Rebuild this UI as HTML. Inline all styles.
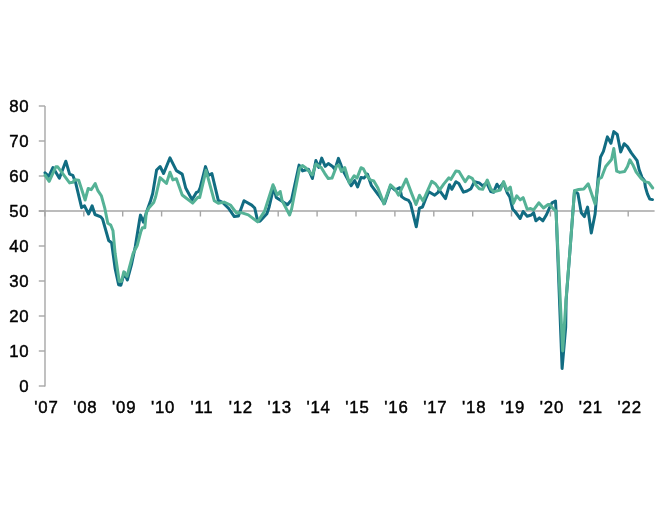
<!DOCTYPE html>
<html><head><meta charset="utf-8"><style>
html,body{margin:0;padding:0;background:#fff;}
body{width:671px;height:516px;overflow:hidden;}
svg{display:block;will-change:transform;}
text{font-family:"Liberation Sans",sans-serif;font-size:16.8px;letter-spacing:0.6px;fill:#000;stroke:#000;stroke-width:0.45px;}
</style></head><body>
<svg width="671" height="516" viewBox="0 0 671 516">
<line x1="45" y1="106" x2="45" y2="386.5" stroke="#a6a6a6" stroke-width="1.4"/>
<line x1="38.8" y1="106" x2="45" y2="106" stroke="#a6a6a6" stroke-width="1.4"/>
<line x1="38.8" y1="141" x2="45" y2="141" stroke="#a6a6a6" stroke-width="1.4"/>
<line x1="38.8" y1="176" x2="45" y2="176" stroke="#a6a6a6" stroke-width="1.4"/>
<line x1="38.8" y1="211" x2="45" y2="211" stroke="#a6a6a6" stroke-width="1.4"/>
<line x1="38.8" y1="246" x2="45" y2="246" stroke="#a6a6a6" stroke-width="1.4"/>
<line x1="38.8" y1="281" x2="45" y2="281" stroke="#a6a6a6" stroke-width="1.4"/>
<line x1="38.8" y1="316" x2="45" y2="316" stroke="#a6a6a6" stroke-width="1.4"/>
<line x1="38.8" y1="351" x2="45" y2="351" stroke="#a6a6a6" stroke-width="1.4"/>
<line x1="38.8" y1="386" x2="45" y2="386" stroke="#a6a6a6" stroke-width="1.4"/>
<line x1="38.8" y1="211" x2="654.6" y2="211" stroke="#a6a6a6" stroke-width="1.4"/>
<line x1="44.9" y1="211" x2="44.9" y2="216.5" stroke="#a6a6a6" stroke-width="1.4"/>
<line x1="83.8" y1="211" x2="83.8" y2="216.5" stroke="#a6a6a6" stroke-width="1.4"/>
<line x1="122.7" y1="211" x2="122.7" y2="216.5" stroke="#a6a6a6" stroke-width="1.4"/>
<line x1="161.6" y1="211" x2="161.6" y2="216.5" stroke="#a6a6a6" stroke-width="1.4"/>
<line x1="200.4" y1="211" x2="200.4" y2="216.5" stroke="#a6a6a6" stroke-width="1.4"/>
<line x1="239.3" y1="211" x2="239.3" y2="216.5" stroke="#a6a6a6" stroke-width="1.4"/>
<line x1="278.2" y1="211" x2="278.2" y2="216.5" stroke="#a6a6a6" stroke-width="1.4"/>
<line x1="317.1" y1="211" x2="317.1" y2="216.5" stroke="#a6a6a6" stroke-width="1.4"/>
<line x1="356.0" y1="211" x2="356.0" y2="216.5" stroke="#a6a6a6" stroke-width="1.4"/>
<line x1="394.9" y1="211" x2="394.9" y2="216.5" stroke="#a6a6a6" stroke-width="1.4"/>
<line x1="433.8" y1="211" x2="433.8" y2="216.5" stroke="#a6a6a6" stroke-width="1.4"/>
<line x1="472.7" y1="211" x2="472.7" y2="216.5" stroke="#a6a6a6" stroke-width="1.4"/>
<line x1="511.5" y1="211" x2="511.5" y2="216.5" stroke="#a6a6a6" stroke-width="1.4"/>
<line x1="550.4" y1="211" x2="550.4" y2="216.5" stroke="#a6a6a6" stroke-width="1.4"/>
<line x1="589.3" y1="211" x2="589.3" y2="216.5" stroke="#a6a6a6" stroke-width="1.4"/>
<line x1="628.2" y1="211" x2="628.2" y2="216.5" stroke="#a6a6a6" stroke-width="1.4"/>
<polyline points="45.0,172.8 48.8,176.3 53.0,167.5 59.4,178.3 65.8,161.2 69.6,174.2 72.8,175.3 75.7,182.9 81.6,207.6 84.5,205.8 88.6,214.0 92.1,205.8 95.0,214.5 100.8,216.9 102.6,219.2 108.7,240.5 111.6,242.8 115.1,268.4 118.6,284.7 120.9,285.2 124.4,272.4 127.3,280.0 131.4,264.9 135.3,246.5 139.4,220.9 140.5,215.1 143.4,222.1 147.5,209.3 150.3,201.6 152.7,193.5 156.6,170.0 160.1,166.5 163.6,173.5 170.0,157.8 176.4,170.6 182.2,174.1 185.7,188.0 192.1,199.7 196.2,192.7 198.5,191.5 200.2,187.6 205.5,166.6 208.4,175.3 211.9,173.6 218.3,200.3 222.9,202.7 228.7,208.5 234.3,216.6 238.4,216.0 244.0,200.7 251.7,205.1 254.7,208.0 257.6,220.7 259.9,221.3 266.9,213.7 269.2,206.7 273.8,187.0 276.2,197.4 279.7,199.8 287.4,204.7 291.5,200.0 299.1,165.1 302.6,170.9 308.4,169.2 312.4,178.5 315.9,160.5 318.8,167.4 321.7,158.1 325.2,166.3 328.3,163.5 332.6,166.5 334.9,169.4 338.4,158.4 341.3,165.9 344.2,172.9 351.2,185.7 354.7,180.5 357.6,186.9 361.0,177.6 364.0,178.1 367.4,174.1 371.5,185.7 375.0,190.3 378.5,195.0 382.6,200.8 384.5,203.5 390.5,186.0 395.1,190.0 399.8,187.7 401.6,196.6 404.7,198.9 408.5,200.4 410.5,203.5 416.3,226.8 419.4,208.2 422.5,207.0 425.6,198.9 428.8,191.7 434.7,195.2 438.1,192.3 439.1,189.9 445.5,198.6 449.5,184.7 451.9,189.3 455.9,181.7 458.8,183.5 463.5,192.2 467.0,191.0 471.0,188.7 474.5,181.7 479.2,182.9 482.7,185.8 486.7,182.9 490.8,191.6 493.5,192.3 497.0,184.2 499.3,188.0 503.5,182.8 507.3,193.0 509.8,197.0 512.7,209.2 515.0,211.5 520.2,218.5 523.1,211.5 527.2,216.2 531.3,215.0 533.6,212.7 535.9,220.8 539.4,217.9 542.9,220.8 546.6,214.5 549.7,207.4 552.0,202.8 555.5,201.0 556.1,211.5 562.1,368.5 565.7,327.0 566.1,300.5 570.0,250.0 574.5,191.0 577.9,193.7 581.3,212.8 584.4,216.6 587.6,207.1 591.3,233.0 595.1,214.0 598.1,178.1 600.5,157.2 603.4,151.4 607.4,136.9 610.9,143.3 613.8,131.6 617.3,134.5 620.7,152.0 624.1,143.7 627.4,146.6 631.3,152.9 637.1,160.7 639.1,169.5 642.0,177.3 644.5,180.7 645.4,187.0 647.4,193.8 649.8,199.1 652.5,199.6" fill="none" stroke="#116c82" stroke-width="3" stroke-linejoin="round" stroke-linecap="round"/>
<polyline points="45.0,175.2 49.2,181.3 55.8,166.8 57.7,166.8 69.6,182.9 72.8,182.3 74.7,179.7 78.7,180.2 85.1,200.0 88.2,188.5 91.2,189.7 95.2,183.6 97.9,190.7 101.4,195.9 104.9,208.7 107.8,223.3 110.7,225.0 113.0,230.8 115.1,253.3 119.2,281.2 121.5,281.5 123.8,271.9 127.0,276.3 133.1,253.5 137.2,245.5 140.7,232.0 142.4,227.8 144.8,227.8 146.3,212.5 149.0,207.8 153.7,202.4 155.6,197.0 160.1,177.6 166.5,183.4 170.0,172.3 172.9,179.9 176.4,178.7 182.2,195.0 185.1,197.3 192.7,203.1 197.9,197.3 199.7,197.5 206.0,170.3 214.3,200.8 218.3,203.3 224.1,202.1 230.4,205.0 236.6,213.1 241.3,212.6 248.3,214.9 257.6,221.9 264.5,211.4 273.0,184.8 277.2,195.0 280.2,191.5 282.1,200.6 289.6,215.0 291.6,209.0 299.5,168.5 302.4,165.5 306.2,168.3 312.3,175.0 315.9,164.0 321.2,167.4 324.7,173.3 328.3,178.6 332.0,178.1 336.6,166.0 338.8,165.0 341.4,171.5 344.8,167.6 349.3,183.0 354.1,175.8 357.0,178.1 361.0,167.7 363.4,168.8 366.9,175.8 370.3,179.9 373.8,181.0 377.9,188.0 382.0,198.5 383.8,204.0 390.5,184.8 395.0,189.0 398.6,195.2 406.2,179.0 411.4,192.9 416.0,204.5 419.5,195.2 423.0,201.0 431.7,181.3 435.6,184.0 439.7,189.9 443.7,184.1 448.9,177.8 450.8,179.5 455.9,170.9 459.0,171.5 465.2,181.7 468.7,176.5 472.2,178.3 475.7,184.7 479.2,188.7 482.7,189.3 487.3,180.0 490.8,188.7 493.5,191.7 497.5,190.8 500.3,190.0 503.6,181.6 507.1,190.5 510.3,187.1 513.3,203.4 516.7,195.8 520.2,199.9 523.1,197.6 527.2,209.2 530.7,208.6 533.6,209.8 538.8,202.8 543.5,208.0 548.1,204.5 549.7,204.5 553.1,208.6 556.0,211.0 562.7,351.0 566.0,300.0 570.0,250.0 574.5,190.7 578.6,189.5 583.8,188.9 588.2,183.8 595.1,204.0 598.9,178.8 601.5,177.5 605.7,166.5 611.5,159.5 613.8,148.5 616.7,171.2 619.8,172.4 624.6,171.5 627.5,166.6 629.9,159.8 632.8,164.7 636.2,172.0 641.1,178.3 644.9,181.6 648.8,182.6 652.7,188.0" fill="none" stroke="#55b296" stroke-width="3" stroke-linejoin="round" stroke-linecap="round"/>
<text x="29.2" y="111.5" text-anchor="end">80</text>
<text x="29.2" y="146.5" text-anchor="end">70</text>
<text x="29.2" y="181.5" text-anchor="end">60</text>
<text x="29.2" y="216.5" text-anchor="end">50</text>
<text x="29.2" y="251.5" text-anchor="end">40</text>
<text x="29.2" y="286.5" text-anchor="end">30</text>
<text x="29.2" y="321.5" text-anchor="end">20</text>
<text x="29.2" y="356.5" text-anchor="end">10</text>
<text x="29.2" y="391.5" text-anchor="end">0</text>
<text x="46.4" y="413.4" text-anchor="middle" style="letter-spacing:0.8px">'07</text>
<text x="85.3" y="413.4" text-anchor="middle" style="letter-spacing:0.8px">'08</text>
<text x="124.2" y="413.4" text-anchor="middle" style="letter-spacing:0.8px">'09</text>
<text x="163.1" y="413.4" text-anchor="middle" style="letter-spacing:0.8px">'10</text>
<text x="201.9" y="413.4" text-anchor="middle" style="letter-spacing:0.8px">'11</text>
<text x="240.8" y="413.4" text-anchor="middle" style="letter-spacing:0.8px">'12</text>
<text x="279.7" y="413.4" text-anchor="middle" style="letter-spacing:0.8px">'13</text>
<text x="318.6" y="413.4" text-anchor="middle" style="letter-spacing:0.8px">'14</text>
<text x="357.5" y="413.4" text-anchor="middle" style="letter-spacing:0.8px">'15</text>
<text x="396.4" y="413.4" text-anchor="middle" style="letter-spacing:0.8px">'16</text>
<text x="435.3" y="413.4" text-anchor="middle" style="letter-spacing:0.8px">'17</text>
<text x="474.2" y="413.4" text-anchor="middle" style="letter-spacing:0.8px">'18</text>
<text x="513.0" y="413.4" text-anchor="middle" style="letter-spacing:0.8px">'19</text>
<text x="551.9" y="413.4" text-anchor="middle" style="letter-spacing:0.8px">'20</text>
<text x="590.8" y="413.4" text-anchor="middle" style="letter-spacing:0.8px">'21</text>
<text x="629.7" y="413.4" text-anchor="middle" style="letter-spacing:0.8px">'22</text>
</svg>
</body></html>
